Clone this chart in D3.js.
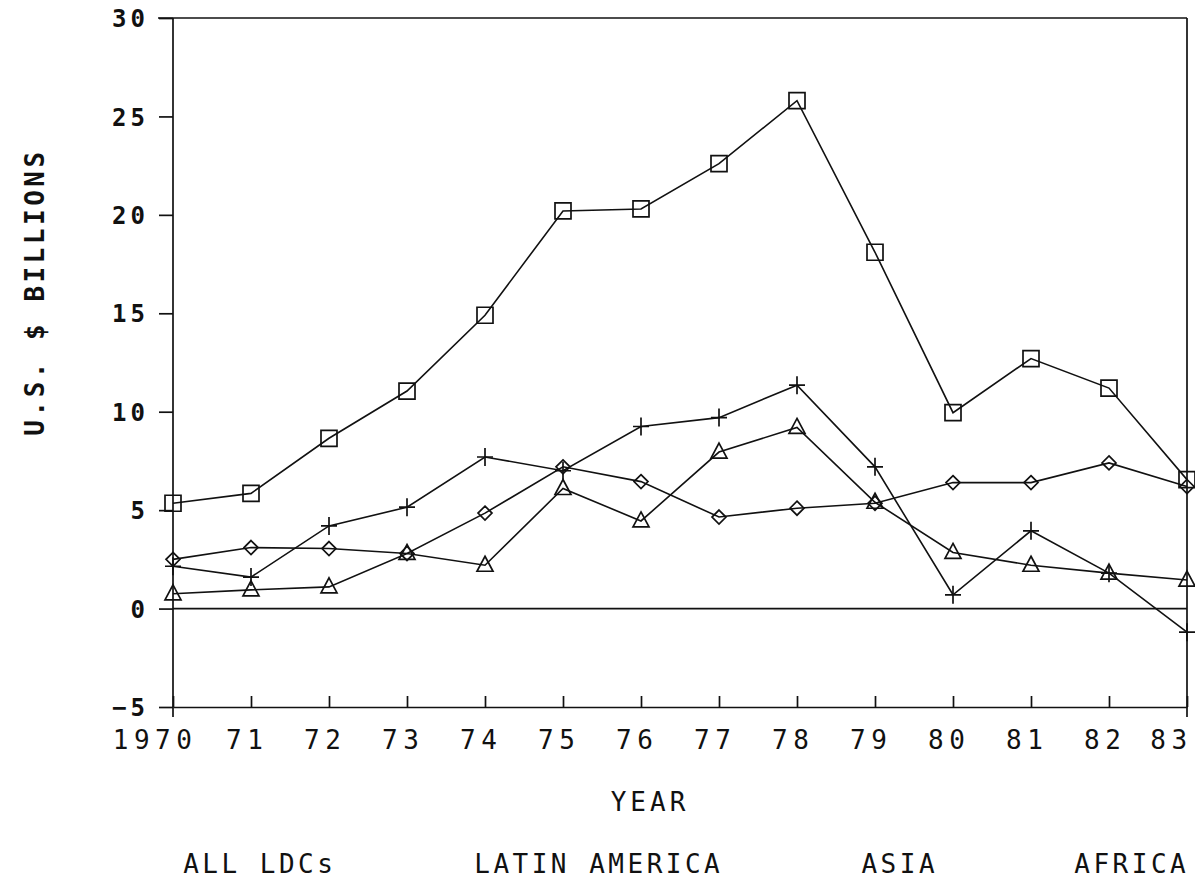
<!DOCTYPE html>
<html>
<head>
<meta charset="utf-8">
<script src="https://cdn.jsdelivr.net/npm/d3@7"></script>
<style>
  html, body { margin: 0; padding: 0; background: #fff; }
  svg { display: block; }
  text { font-family: "DejaVu Sans Mono", "Liberation Mono", monospace; fill: #111; }
</style>
</head>
<body>
<svg id="chart" width="1195" height="884"></svg>
<script>
// Net capital flows to developing countries, 1970-83
const years = [1970, 1971, 1972, 1973, 1974, 1975, 1976, 1977, 1978, 1979, 1980, 1981, 1982, 1983];
const yearLabels = ["1970", "71", "72", "73", "74", "75", "76", "77", "78", "79", "80", "81", "82", "83"];
const yTicks = [-5, 0, 5, 10, 15, 20, 25, 30];

const allLDCs      = [5.35, 5.85, 8.65, 11.05, 14.9, 20.2, 20.3, 22.6, 25.8, 18.1, 9.95, 12.7, 11.2, 6.55];
const latinAmerica = [2.15, 1.6, 4.2, 5.15, 7.7, 7.0, 9.25, 9.7, 11.35, 7.2, 0.7, 3.95, 1.8, -1.2];
const asia         = [2.5, 3.1, 3.05, 2.8, 4.85, 7.2, 6.45, 4.65, 5.1, 5.35, 6.4, 6.4, 7.4, 6.2];
const africa       = [0.75, 0.95, 1.1, 2.8, 2.2, 6.1, 4.45, 7.95, 9.2, 5.4, 2.85, 2.2, 1.8, 1.45];

const legendNames = ["ALL LDCs", "LATIN AMERICA", "ASIA", "AFRICA"];

const series = [
  { name: legendNames[0], values: allLDCs,      marker: "square" },
  { name: legendNames[1], values: latinAmerica, marker: "plus" },
  { name: legendNames[2], values: asia,         marker: "diamond" },
  { name: legendNames[3], values: africa,       marker: "triangle" }
];

const svg = d3.select("#chart");
const ink = "#111";

const x = d3.scaleLinear().domain([1970, 1983]).range([173, 1187]);
const y = d3.scaleLinear().domain([-5, 30]).range([707, 18]);

// frame: top and right borders
svg.append("line").attr("x1", 158).attr("x2", x(1983)).attr("y1", y(30)).attr("y2", y(30))
  .attr("stroke", ink).attr("stroke-width", 1.7);
svg.append("line").attr("x1", x(1983)).attr("x2", x(1983)).attr("y1", y(30)).attr("y2", 717)
  .attr("stroke", ink).attr("stroke-width", 1.7);

// left axis with outward ticks
const ySpacing = 4;
const yAxis = svg.append("g").attr("transform", `translate(${x(1970)},0)`)
  .call(d3.axisLeft(y).tickValues(yTicks).tickSize(14).tickPadding(10)
        .tickFormat(d => d < 0 ? "\u2212" + Math.abs(d) : String(d)));
yAxis.select(".domain").attr("d", `M0,${y(30)}V717`).attr("stroke", ink).attr("stroke-width", 1.7);
yAxis.selectAll(".tick line").attr("stroke", ink).attr("stroke-width", 1.7);
yAxis.selectAll(".tick text")
  .attr("font-size", 24).attr("letter-spacing", ySpacing)
  .attr("font-family", "DejaVu Sans Mono").attr("font-weight", "bold")
  .attr("fill", ink).attr("dy", "0.36em");

// bottom axis with inward ticks
const xFont = 26, xSpacing = 5.5;
const pitch = xFont * 0.602 + xSpacing;
const xAxis = svg.append("g").attr("transform", `translate(0,${y(-5)})`)
  .call(d3.axisBottom(x).tickValues(years).tickSizeInner(-11).tickSizeOuter(0).tickPadding(24)
        .tickFormat((d, i) => yearLabels[i]));
xAxis.select(".domain").attr("stroke", ink).attr("stroke-width", 1.7);
xAxis.selectAll(".tick line").attr("stroke", ink).attr("stroke-width", 1.7);
xAxis.selectAll(".tick text")
  .attr("font-size", xFont).attr("letter-spacing", xSpacing)
  .attr("font-family", "DejaVu Sans Mono")
  .attr("fill", ink)
  .attr("dx", (d, i) => {
    if (i === 0) return -pitch + xSpacing / 2;
    if (i === years.length - 1) return -16;
    return xSpacing / 2 - 7;
  });

// zero reference line
svg.append("line").attr("x1", x(1970)).attr("x2", x(1983)).attr("y1", y(0)).attr("y2", y(0))
  .attr("stroke", ink).attr("stroke-width", 1.7);

// series lines
const line = d3.line().x((d, i) => x(years[i])).y(d => y(d));
series.forEach(s => {
  svg.append("path").datum(s.values).attr("d", line)
    .attr("fill", "none").attr("stroke", ink).attr("stroke-width", 1.6);
});

// markers
const markerPath = {
  square: () => "M-8,-8H8V8H-8Z",
  diamond: () => "M0,-7L7,0L0,7L-7,0Z",
  triangle: () => "M0,-9L8,6H-8Z",
  plus: () => "M-8,0H8M0,-9V9"
};
series.forEach(s => {
  svg.append("g").selectAll("path").data(s.values).enter().append("path")
    .attr("d", markerPath[s.marker]())
    .attr("transform", (v, i) => `translate(${x(years[i])},${y(v)})`)
    .attr("fill", "none").attr("stroke", ink).attr("stroke-width", 1.7);
});

// axis titles
svg.append("text").attr("x", 648).attr("y", 811).attr("text-anchor", "middle")
  .attr("font-size", 26).attr("letter-spacing", 4).attr("dx", 2).text("YEAR");
svg.append("text").attr("transform", "translate(44,292) rotate(-90)").attr("text-anchor", "middle")
  .attr("font-size", 26).attr("letter-spacing", 3.5).attr("font-weight", "bold").text("U.S. $ BILLIONS");

// series names along the bottom
const legendX = [258, 597, 898, 1130];
svg.selectAll(".legend").data(legendNames).enter().append("text")
  .attr("class", "legend")
  .attr("x", (d, i) => legendX[i]).attr("y", 873).attr("text-anchor", "middle")
  .attr("font-size", 26).attr("letter-spacing", 3.5).attr("dx", 1.75).text(d => d);
</script>
</body>
</html>
